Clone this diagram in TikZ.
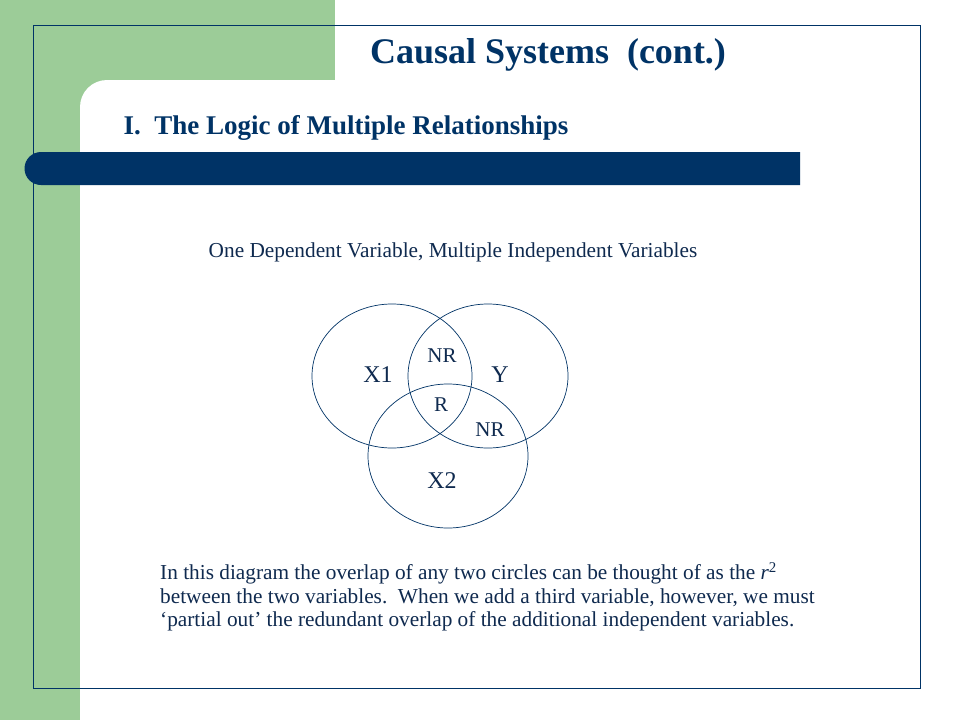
\documentclass[tikz,border=0pt]{standalone}
\usepackage{fontspec}
\setmainfont{Liberation Serif}
\definecolor{grn}{HTML}{9CCC98}
\definecolor{navy}{HTML}{003366}
\definecolor{txt}{HTML}{0F2A4F}
\begin{document}
\begin{tikzpicture}[x=1pt,y=-1pt,
  venn/.style={draw=navy,line width=0.7pt},
  lab/.style={text=txt,font=\fontsize{24}{26}\selectfont},
  slab/.style={text=txt,font=\fontsize{21}{23}\selectfont}]
\useasboundingbox (0,0) rectangle (960,720);
\fill[white] (0,0) rectangle (960,720);
\fill[grn] (0,0) rectangle (335,80);
\fill[grn] (0,0) rectangle (80,720);
\fill[grn] (80,80) rectangle (110,110);
\fill[white] (80,720) -- (80,107) arc[start angle=180,end angle=270,radius=27] -- (335,80) -- (335,720) -- cycle;
\draw[navy,line width=0.8pt] (33,25) rectangle (920,688);
\fill[navy] (800,152) -- (41,152) arc[start angle=270,end angle=90,radius=16.5] -- (800,185) -- cycle;
\node[text=navy,font=\bfseries\fontsize{36}{40}\selectfont] (title) at (548,55) {Causal Systems\ \ (cont.)};
\node[anchor=west,text=navy,font=\bfseries\fontsize{27}{30}\selectfont] (sub) at (120,128) {I.\ \ The Logic of Multiple Relationships};
\node[text=txt,font=\fontsize{21.3}{24}\selectfont] (head) at (453,252) {One Dependent Variable, Multiple Independent Variables};
\draw[venn] (392,376) ellipse[x radius=80,y radius=72];
\draw[venn] (488,376) ellipse[x radius=80,y radius=72];
\draw[venn] (448,456) ellipse[x radius=80,y radius=72];
\node[lab] (x1) at (378,375) {X1};
\node[lab] (y) at (500,375) {Y};
\node[lab] (x2) at (442,481) {X2};
\node[slab] (nr1) at (442,356) {NR};
\node[slab] (r) at (441,405) {R};
\node[slab] (nr2) at (490,430) {NR};
\node[anchor=north west,text=txt,font=\fontsize{21.3}{23.6}\selectfont,align=left,inner sep=0pt] (para) at (160,562) {In this diagram the overlap of any two circles can be thought of as the \textit{r}\textsuperscript{2}\\between the two variables.\ \ When we add a third variable, however, we must\\‘partial out’ the redundant overlap of the additional independent variables.};
\end{tikzpicture}
\end{document}
